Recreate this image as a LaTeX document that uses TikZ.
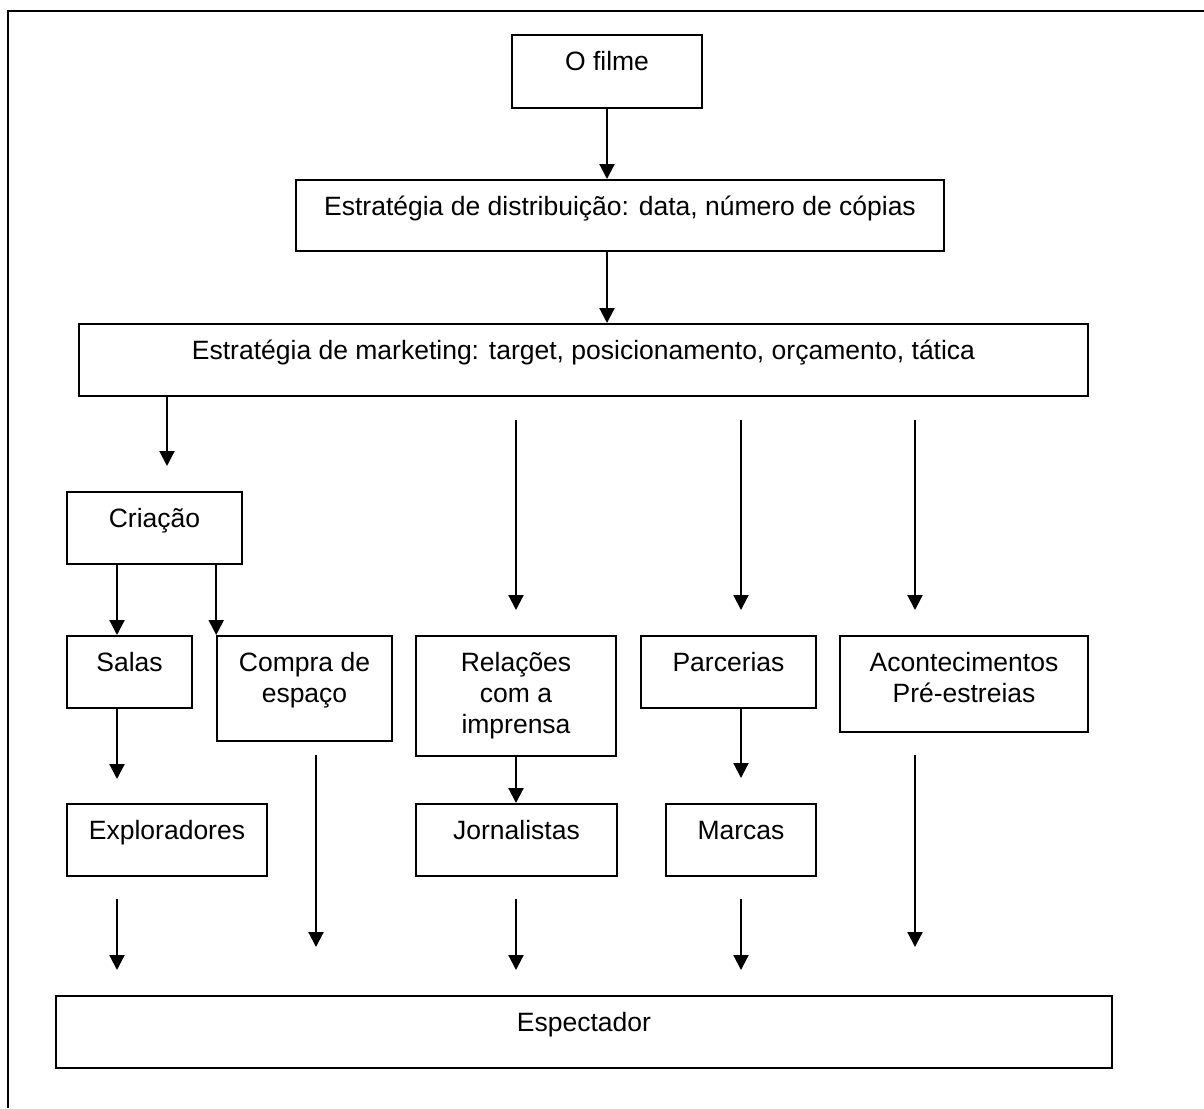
\documentclass[tikz,border=0pt]{standalone}
\usepackage{fontspec}
\setmainfont{Liberation Sans}
\usetikzlibrary{arrows.meta}

\tikzset{
  caixa/.style={draw, line width=1.6pt, anchor=north, align=center, inner sep=0pt, text height=36pt},
  seta/.style={line width=2.2pt, -{Triangle[width=15pt,length=15pt]}},
}

\begin{document}
\begin{tikzpicture}[x=1pt, y=-1pt, font=\fontsize{26.5}{31}\selectfont]
    \useasboundingbox (0,0) rectangle (1204,1108);
    \draw [line width=2pt] (8,1108) -- (8,11) -- (1204,11);

    \node[caixa, minimum width=190, text depth=37pt] (filme) at (607,34) {O filme};
    \node[caixa, minimum width=648, text depth=35pt] (distrib) at (620,179) {Estratégia de distribuição: data, número de cópias};
    \node[caixa, minimum width=1009, text depth=36pt] (mkt) at (583.5,323) {Estratégia de marketing: target, posicionamento, orçamento, tática};
    \node[caixa, minimum width=175, text depth=36pt] (cria) at (154.5,491) {Criação};
    \node[caixa, minimum width=125, text depth=36pt] (salas) at (129.5,635) {Salas};
    \node[caixa, minimum width=175, text height=67pt, text depth=38pt] (compra) at (304.5,635) {Compra de\\espaço};
    \node[caixa, minimum width=200, text height=98pt, text depth=22pt] (rel) at (516,635) {Relações\\com a\\imprensa};
    \node[caixa, minimum width=175, text depth=36pt] (parc) at (728.5,635) {Parcerias};
    \node[caixa, minimum width=248, text height=67pt, text depth=29pt] (acont) at (964,635) {Acontecimentos\\Pré-estreias};
    \node[caixa, minimum width=200, text depth=36pt] (explo) at (167,803) {Exploradores};
    \node[caixa, minimum width=201, text depth=36pt] (jorn) at (516.5,803) {Jornalistas};
    \node[caixa, minimum width=150, text depth=36pt] (marcas) at (741,803) {Marcas};
    \node[caixa, minimum width=1056, text depth=36pt] (espec) at (584,995) {Espectador};

    \coordinate (criaF) at (167,466);
    \coordinate (relA) at (516,420);
    \coordinate (relB) at (516,610);
    \coordinate (parcA) at (741,420);
    \coordinate (parcB) at (741,610);
    \coordinate (acontA) at (915,420);
    \coordinate (acontB) at (915,610);
    \coordinate (salasF) at (117,779);
    \coordinate (compraA) at (316,755);
    \coordinate (compraB) at (316,947);
    \coordinate (marcasF) at (741,778);
    \coordinate (acontC) at (915,755);
    \coordinate (acontD) at (915,947);
    \coordinate (exploA) at (117,899);
    \coordinate (exploB) at (117,970);
    \coordinate (jornA) at (516,899);
    \coordinate (jornB) at (516,970);
    \coordinate (marcasA) at (741,899);
    \coordinate (marcasB) at (741,970);

    \draw [seta] (filme.south) -- (filme.south |- distrib.north);
    \draw [seta] (filme.south |- distrib.south) -- (filme.south |- mkt.north);
    \draw [seta] (mkt.south -| criaF) -- (criaF);
    \draw [seta] (relA) -- (relB);
    \draw [seta] (parcA) -- (parcB);
    \draw [seta] (acontA) -- (acontB);
    \draw [seta] (cria.south -| salasF) -- (salasF |- salas.north);
    \draw [seta] (cria.south -| compra.north west) -- (compra.north west);
    \draw [seta] (salas.south -| salasF) -- (salasF);
    \draw [seta] (compraA) -- (compraB);
    \draw [seta] (rel.south) -- (rel.south |- jorn.north);
    \draw [seta] (parc.south -| marcasF) -- (marcasF);
    \draw [seta] (acontC) -- (acontD);
    \draw [seta] (exploA) -- (exploB);
    \draw [seta] (jornA) -- (jornB);
    \draw [seta] (marcasA) -- (marcasB);
\end{tikzpicture}
\end{document}
